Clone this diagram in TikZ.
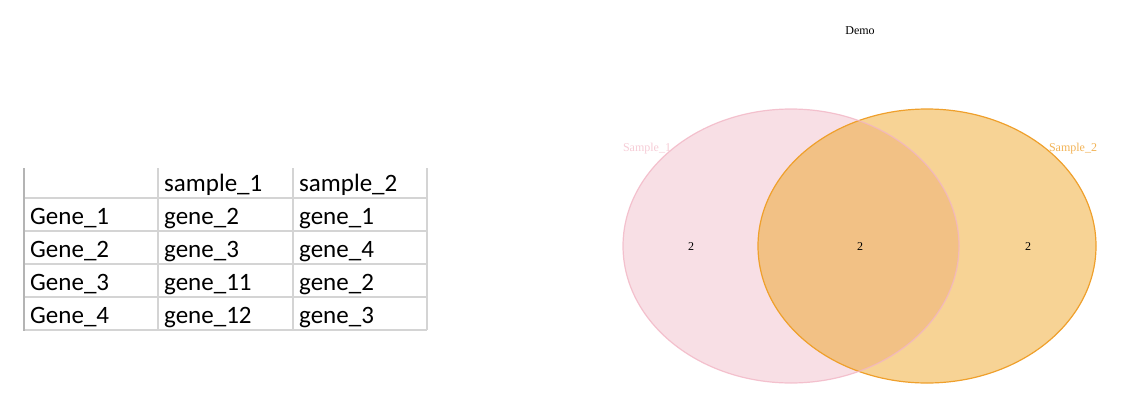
\documentclass[tikz,border=0pt]{standalone}
\usepackage{fontspec}
\setmainfont{Liberation Serif}
\newfontfamily\cellfont{Carlito}
\usepackage{tikz}
\definecolor{gridgray}{HTML}{D4D4D4}
\definecolor{edgegray}{HTML}{B4B4B4}
\definecolor{pinkfill}{HTML}{F8DFE5}
\definecolor{pinkline}{HTML}{F2B6C5}
\definecolor{orangefill}{HTML}{F7D395}
\definecolor{orangeline}{HTML}{EFA02C}
\definecolor{bothfill}{HTML}{F2C185}
\tikzset{
    cell/.style={anchor=base west, inner sep=0pt, font=\cellfont\fontsize{25}{29}\selectfont},
    vennlabel/.style={inner sep=0pt, font=\fontsize{12}{14}\selectfont},
}

\begin{document}
\begin{tikzpicture}[x=1pt, y=-1pt]
    \useasboundingbox (0,0) rectangle (1129,410);

    % table
    \foreach \y in {198,231,264,297,330}
        \draw[gridgray, line width=1.5pt] (24,\y) -- (427,\y);
    \foreach \x in {158,293,427}
        \draw[gridgray, line width=1.5pt] (\x,168) -- (\x,330);
    \draw[edgegray, line width=2pt] (24,168) -- (24,331);

    \node[cell] (s1) at (164,191) {sample\_1};
    \node[cell] (s2) at (299,191) {sample\_2};
    \foreach \i/\a/\b [evaluate=\i as \y using 191+33*\i] in {1/2/1, 2/3/4, 3/11/2, 4/12/3} {
        \node[cell] (g\i) at (30,\y) {Gene\_\i};
        \node[cell] (a\i) at (164,\y) {gene\_\a};
        \node[cell] (b\i) at (299,\y) {gene\_\b};
    }

    % venn
    \fill[pinkfill] (791,246) ellipse [x radius=168, y radius=137];
    \fill[orangefill] (927,246) ellipse [x radius=169, y radius=137];
    \begin{scope}
        \clip (791,246) ellipse [x radius=168, y radius=137];
        \fill[bothfill] (927,246) ellipse [x radius=169, y radius=137];
    \end{scope}
    \draw[orangeline, line width=1.2pt] (927,246) ellipse [x radius=169, y radius=137];
    \draw[pinkline, line width=1.2pt, opacity=0.8] (791,246) ellipse [x radius=168, y radius=137];

    \node[vennlabel] (title) at (860,31) {Demo};
    \node[vennlabel, text=pinkline!70] (lab1) at (647,149) {Sample\_1};
    \node[vennlabel, text=orangeline!80] (lab2) at (1073,149) {Sample\_2};
    \node[vennlabel] (n1) at (691,247) {2};
    \node[vennlabel] (n12) at (860,247) {2};
    \node[vennlabel] (n2) at (1028,247) {2};
\end{tikzpicture}
\end{document}
